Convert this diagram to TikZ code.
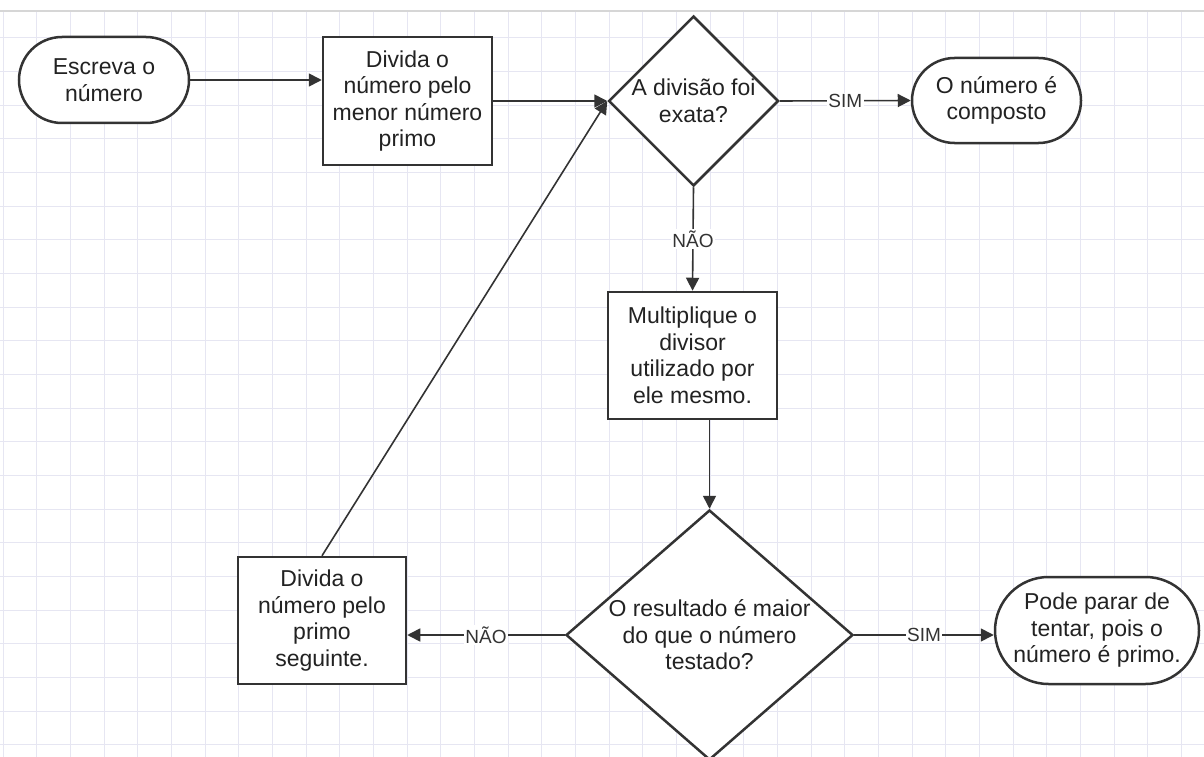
\documentclass[tikz,border=0pt]{standalone}
\usepackage{fontspec}
\setmainfont{Liberation Sans}
\usetikzlibrary{arrows.meta,shapes.geometric}
\definecolor{FlowInk}{HTML}{333333}
\definecolor{FlowText}{HTML}{222222}
\definecolor{FlowGrid}{HTML}{E6E6F2}
\definecolor{FlowBand}{HTML}{D6D6D6}

\begin{document}
\begin{tikzpicture}[>={Triangle[length=13pt,width=13pt]},x=1pt,y=-1pt,
  every node/.style={font=\fontsize{23}{26.5}\selectfont,text=FlowText},
  terminal/.style={draw=FlowInk,line width=2.5pt,fill=white,rectangle,
    inner sep=0pt,align=center,minimum height=#1,rounded corners=#1/2},
  process/.style={draw=FlowInk,line width=2.5pt,fill=white,rectangle,
    inner sep=0pt,align=center,minimum width=169,minimum height=127},
  decision/.style={draw=FlowInk,line width=2.5pt,fill=white,diamond,inner sep=0pt},
  flow/.style={->,draw=FlowInk,line width=1.6pt},
  edgelabel/.style={fill=white,inner sep=1.5pt,text=FlowInk,
    font=\fontsize{19}{22}\selectfont}]
  \fill[white] (0,0) rectangle (1204,757);
  \useasboundingbox (0,0) rectangle (1204,757);
  % grid paper
  \begin{scope}
    \clip (0,11) rectangle (1204,757);
    \foreach \gx in {0,...,35}
      \draw[FlowGrid,line width=1pt] ({3.3+33.66*\gx},11) -- ++(0,746);
    \foreach \gy in {0,...,21}
      \draw[FlowGrid,line width=1pt] (0,{38+33.66*\gy}) -- ++(1204,0);
  \end{scope}
  \draw[FlowBand,line width=1.5pt] (0,11) -- (1204,11);

  % shapes
  \node[terminal=86,minimum width=170] (start) at (104,80) {Escreva o\\número};
  \node[process,minimum height=128] (divide) at (407.5,101)
    {Divida o\\número pelo\\menor número\\primo};
  \node[decision,minimum width=170,minimum height=170] (exact) at (693.5,101) {};
  \node[align=center] (exacttext) at (exact.center) {A divisão foi\\exata?};
  \node[terminal=85,minimum width=169] (composite) at (996.5,100.5)
    {O número é\\composto};
  \node[process] (square) at (692.5,355.5)
    {Multiplique o\\divisor\\utilizado por\\ele mesmo.};
  \node[decision,minimum width=287,minimum height=250] (bigger) at (709.5,635) {};
  \node[align=center] (biggertext) at (bigger.center)
    {O resultado é maior\\do que o número\\testado?};
  \node[process,minimum width=168] (nextprime) at (322,620.5)
    {Divida o\\número pelo\\primo\\seguinte.};
  \node[terminal=107,minimum width=204] (prime) at (1097,630.5)
    {Pode parar de\\tentar, pois o\\número é primo.};

  % connectors
  \draw[flow] (start.east) -- (start.east -| divide.west);
  \draw[flow] (divide.east) -- (exact.west);
  \draw[flow] (nextprime.north) -- (exact.west);
  \draw[flow] (exact.east) -- node[edgelabel] (simtop) {SIM} (composite.west);
  \draw[flow] (exact.south) -- node[edgelabel] (naotop) {NÃO} (square.north);
  \draw[flow] (square.south -| bigger.north) -- (bigger.north);
  \draw[flow] (bigger.west) -- node[edgelabel] (naobottom) {NÃO}
    (bigger.west -| nextprime.east);
  \draw[flow] (bigger.east) -- node[edgelabel] (simbottom) {SIM}
    (bigger.east -| prime.west);
\end{tikzpicture}
\end{document}
